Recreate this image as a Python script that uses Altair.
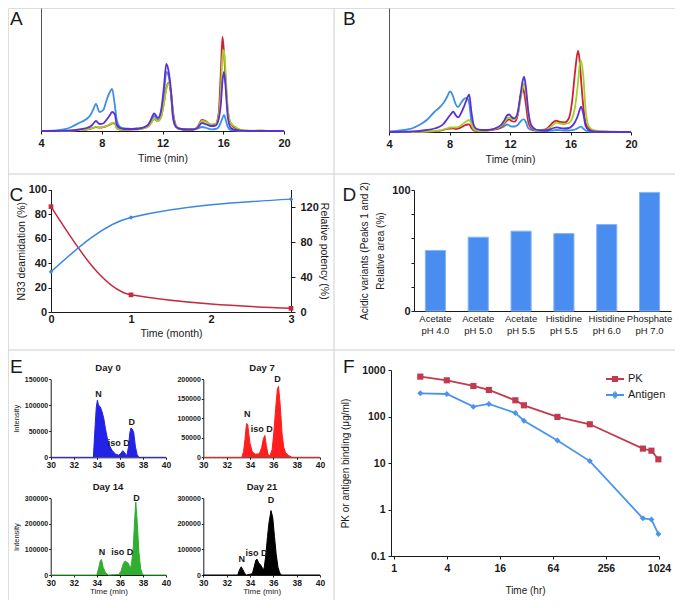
import altair as alt
import pandas as pd

W, H = 667, 592
FONT = "Liberation Sans"
INK = "#1a1a1a"

# ---------------- Panel A : chromatogram (min, arbitrary signal) ----------------
a_time = [4, 5, 5.5, 6, 6.5, 7, 7.3, 7.45, 7.62, 7.85, 8.1, 8.3, 8.5, 8.68, 8.85, 9.0,
          9.2, 9.5, 10, 10.5, 11, 11.2, 11.45, 11.7, 11.9, 12.1, 12.25, 12.4, 12.55, 12.7,
          12.9, 13.2, 13.6, 14, 14.3, 14.6, 14.9, 15.2, 15.5, 15.7, 15.85, 15.95, 16.05,
          16.15, 16.3, 16.5, 16.8, 17.1, 17.5, 18, 18.5, 19, 20]
a_blue = [0, 0.5, 1.5, 4, 8, 12,
          17, 22, 27, 19, 21, 30, 38, 42, 27, 10,
          4, 2.5, 2, 2.5, 5, 9, 15, 11, 17, 38,
          59, 55, 38, 12, 4, 2, 1.5, 1.5, 2.5, 4,
          3, 1.7, 2, 4, 9, 13, 16, 12, 4, 1,
          0.5, 0, 0, 0, 0, 0, 0]
a_red = [0, 0, 0, 0.3, 0.8, 1.5,
         2.4, 3.2, 4, 3.3, 3.8, 4.8, 6, 7.6, 7.8, 2.8,
         1.5, 1.2, 1.5, 2, 4, 7, 12, 10, 14, 29,
         43, 48, 39, 18, 5, 2, 1.5, 1.5, 4, 11,
         9.5, 6, 7, 18, 62, 94, 78, 52, 20, 7,
         3, 1, 0.3, 0, 0, 0, 0]
a_green = [0, 0, 0, 0.3, 0.8, 1.5,
           2.5, 3.3, 4.3, 3.5, 4, 5, 6.5, 8, 8.3, 3,
           1.5, 1.2, 1.5, 2, 4, 7, 12.5, 10, 14, 28,
           42, 47.5, 40, 18, 5, 2, 1.5, 1.5, 3.5, 10,
           9, 6.5, 7, 15, 42, 75, 81, 60, 22, 8,
           4, 1.5, 0.5, 0.3, 0.8, 0, 0]
a_purple = [0, 0, 0.2, 0.5, 1.5, 3,
            5, 7.5, 10, 7, 7.5, 11, 15, 19, 17, 6,
            3, 2, 2, 2.5, 5.5, 10, 17.5, 13, 20, 45,
            67, 60, 42, 14, 4, 2, 1.5, 1.5, 3, 8,
            6.5, 5, 5.5, 12, 28, 50, 59, 45, 14, 3,
            1, 0.5, 0, 0, 0, 0, 0]

# ---------------- Panel B : chromatogram ----------------
b_time = [4, 4.5, 5, 5.5, 6, 6.5, 7, 7.3, 7.6, 7.8,
          8.05, 8.25, 8.4, 8.56, 8.8, 9.0, 9.15, 9.3, 9.45, 9.6,
          9.8, 10.1, 10.5, 11, 11.4, 11.6, 11.8, 11.95, 12.1, 12.3,
          12.5, 12.7, 12.85, 12.93, 13.05, 13.2, 13.4, 13.7, 14.1, 14.5,
          14.8, 15.05, 15.3, 15.6, 15.9, 16.1, 16.3, 16.5, 16.6, 16.7,
          16.85, 17.0, 17.2, 17.5, 18, 18.5, 19, 19.5, 20]
b_blue = [0.5, 1, 2, 3.5, 7, 12, 20, 24, 29, 34,
          40.5, 35, 28, 25, 30, 33.5, 34, 29, 10, 4,
          2.5, 2, 2, 3, 4, 5.5, 7.5, 6.5, 5.5, 5.5,
          7, 10.5, 12.5, 12.7, 10, 4, 2, 1.2, 1, 1,
          1.5, 2, 1.8, 1.5, 1.5, 1.8, 2.5, 4, 5, 5.3,
          3.5, 1.5, 0.7, 0.3, 0, 0, 0, 0, 0]
b_red = [0, 0, 0, 0, 0.1, 0.3, 0.8, 1.2, 2, 3,
         3.5, 3.7, 3, 3.3, 5, 6.5, 7.5, 7.7, 4, 1.5,
         1, 1, 1.5, 2.5, 5, 8, 11.5, 12.7, 11, 10.3,
         16, 36, 43.7, 40, 28, 11, 4, 2, 2, 4,
         9, 11.3, 10, 9.5, 14, 30, 60, 81.3, 72, 52,
         25, 9, 3.5, 1.5, 0.5, 0, 0, 0, 0]
b_green = [0, 0, 0, 0, 0.2, 0.5, 1, 1.5, 2.5, 3.5,
           4.5, 4.7, 4.5, 5, 7, 9.5, 11, 12, 8, 3,
           1.5, 1, 1.5, 3, 6, 9, 13.5, 14.7, 13, 13,
           17, 33, 45, 48.7, 40, 20, 6, 2, 1.5, 3,
           6.5, 9.3, 8.5, 8, 9, 13, 25, 50, 66, 71.3,
           55, 22, 6, 2, 1, 0.5, 0.3, 0, 0]
b_purple = [0, 0, 0.2, 0.5, 1, 2, 3.5, 5, 8, 12,
            17, 20.3, 17, 14.7, 20, 27, 33, 37.7, 20, 7,
            3, 2, 2, 3.5, 7, 11, 16.5, 17.5, 15, 13.7,
            19, 38, 52, 55.3, 45, 22, 7, 2.5, 1.5, 2,
            3.5, 4.7, 4, 3.5, 4, 6, 10, 17, 22, 25.3,
            18, 6, 2, 0.5, 0, 0, 0, 0, 0]

# ---------------- Panel C ----------------
c_month = [0, 1, 3]
c_deamidation = [86, 14, 3]
c_potency = [46, 108, 129]

# ---------------- Panel D ----------------
d_buffer = ["Acetate", "Acetate", "Acetate", "Histidine", "Histidine", "Phosphate"]
d_ph = ["pH 4.0", "pH 5.0", "pH 5.5", "pH 5.5", "pH 6.0", "pH 7.0"]
d_acidic = [50, 61, 66, 64, 71.5, 98]

# ---------------- Panel E : mass spec traces ----------------
e0_time = [30, 33.7, 33.84, 33.95, 34.05, 34.15, 34.3, 34.45, 34.6, 34.75, 34.9, 35.05, 35.3, 35.6,
           35.9, 36.1, 36.25, 36.4, 36.6, 36.75, 36.85, 36.95, 37.05, 37.2, 37.35, 37.5, 37.65, 40]
e0_int = [0, 0, 55000, 95000, 110000, 100000, 97000, 88000, 75000, 55000, 38000, 25000, 14000, 6500,
          4000, 8000, 12700, 9000, 3000, 20000, 45000, 56000, 55000, 48000, 20000, 5000, 0, 0]
e7_time = [30, 33.3, 33.45, 33.57, 33.7, 33.8, 33.9, 34.0, 34.2, 34.45, 34.8, 35.0, 35.15, 35.28, 35.4,
           35.55, 35.7, 35.9, 36.05, 36.2, 36.35, 36.45, 36.6, 36.75, 36.9, 37.05, 37.3, 37.6, 40]
e7_int = [0, 0, 15000, 45000, 86000, 85000, 60000, 36000, 14000, 8000, 9000, 25000, 48000, 56000, 30000,
          8000, 3000, 20000, 65000, 125000, 175000, 182000, 130000, 60000, 25000, 12000, 5000, 0, 0]
e14_time = [30, 34.0, 34.15, 34.3, 34.4, 34.55, 34.75, 35.0, 35.9, 36.1, 36.3, 36.45, 36.6, 36.75, 36.9,
            37.0, 37.15, 37.3, 37.38, 37.5, 37.65, 37.8, 37.95, 38.1, 40]
e14_int = [0, 0, 25000, 55000, 61000, 30000, 9000, 0, 2000, 15000, 45000, 55000, 50000, 45000, 25000,
           40000, 100000, 230000, 285000, 210000, 90000, 25000, 3000, 0, 0]
e21_time = [30, 32.95, 33.1, 33.25, 33.4, 33.55, 33.7, 34.2, 34.35, 34.5, 34.6, 34.75, 34.9, 35.05, 35.2,
            35.35, 35.5, 35.63, 35.8, 35.95, 36.1, 36.25, 36.4, 36.55, 36.7, 40]
e21_int = [0, 0, 20000, 32000, 20000, 6000, 0, 5000, 30000, 58000, 62000, 47000, 40000, 28000, 22000,
           75000, 150000, 205000, 252000, 225000, 150000, 80000, 30000, 8000, 0, 0]
e_peak_labels = ["N", "iso D", "D"]
e0_lab_time, e0_lab_int = [34.15, 35.9, 37.02], [121000, 27000, 68000]
e7_lab_time, e7_lab_int = [33.77, 35.0, 36.36], [110000, 73000, 200000]
e14_lab_time, e14_lab_int = [34.45, 36.2, 37.45], [91000, 91000, 300000]
e21_lab_time, e21_lab_int = [33.29, 34.55, 35.8], [61000, 88000, 292000]

# ---------------- Panel F : PK ----------------
f_time = [2, 4, 8, 12, 24, 30, 72, 168, 672, 840, 1008]
f_pk = [720, 600, 453, 372, 223, 174, 98, 68, 20.4, 18.4, 12]
f_antigen = [315, 305, 163, 186, 119, 81, 30.6, 11, 0.645, 0.61, 0.297]

# ---------------- styling / layout ----------------
TRACE_ORDER = ["blue", "red", "green", "purple"]
TRACE_COLORS = {"blue": "#3d8fe8", "red": "#d0212f", "green": "#a4d02c", "purple": "#5b30d6"}
C_RED, C_BLUE = "#c22c3f", "#3b86e3"
D_BAR, D_EDGE = "#4a8df0", "#86b5f6"
PK_COL, AG_COL = "#c23a4f", "#4a94ea"

A_X, A_Y = [33, 276], [123, 0]
B_X, B_Y = [381, 623], [124, 0]
C_X, C_Y = [43, 283], [304, 181.5]
D_X, D_Y = [406, 663], [303, 182]
E_XL, E_XR = [42.7, 158], [195.3, 312]
E_YT, E_YB = [449.3, 371.3], [567, 490.3]
F_X, F_Y = [383, 651], [548, 362]


def ax(**kw):
    base = dict(grid=False, domainColor=INK, tickColor=INK, labelColor=INK, titleColor=INK,
                labelFont=FONT, titleFont=FONT, labelOverlap=False, labelFlush=False,
                labelBound=False, titleFontWeight="normal")
    base.update(kw)
    return alt.Axis(**base)


def chromatogram(times, traces, xr, yr, ymax):
    xs = alt.Scale(domain=[4, 20], range=xr, nice=False, zero=False)
    ys = alt.Scale(domain=[0, ymax], range=yr, nice=False)
    units = []
    for i, name in enumerate(TRACE_ORDER):
        df = pd.DataFrame({"time": times, "signal": traces[name]})
        if i == 0:
            xa = ax(orient="bottom", values=[4, 8, 12, 16, 20], offset=yr[0] - H, title="Time (min)",
                    tickSize=3, labelPadding=3, labelFontSize=11, labelFontWeight="bold",
                    titleFontSize=10.5, titlePadding=5)
            ya = ax(orient="left", offset=-xr[0], ticks=False, labels=False, title=None,
                    domainColor="#555")
        else:
            xa, ya = None, None
        units.append(
            alt.Chart(df).mark_line(color=TRACE_COLORS[name], strokeWidth=1.8, interpolate="monotone")
            .encode(x=alt.X("time:Q", scale=xs, axis=xa), y=alt.Y("signal:Q", scale=ys, axis=ya))
        )
    return units


units_a = chromatogram(a_time, {"blue": a_blue, "red": a_red, "green": a_green, "purple": a_purple},
                       A_X, A_Y, 123)
units_b = chromatogram(b_time, {"blue": b_blue, "red": b_red, "green": b_green, "purple": b_purple},
                       B_X, B_Y, 124)

# ---- C
c_df = pd.DataFrame({"month": c_month, "deamidation": c_deamidation, "potency": c_potency})
cx = alt.Scale(domain=[0, 3], range=C_X, nice=False)
c_red = alt.Chart(c_df).mark_line(
    color=C_RED, strokeWidth=1.5, interpolate="monotone",
    point=alt.OverlayMarkDef(shape="square", size=22, filled=True, color=C_RED)
).encode(
    x=alt.X("month:Q", scale=cx,
            axis=ax(orient="bottom", values=[0, 1, 2, 3], offset=C_Y[0] - H, ticks=False,
                    labelPadding=1.5, labelFontSize=11, labelFontWeight="bold", title="Time (month)",
                    titleFontSize=10.5, titlePadding=4)),
    y=alt.Y("deamidation:Q", scale=alt.Scale(domain=[0, 100], range=C_Y, nice=False),
            axis=ax(orient="left", values=[0, 20, 40, 60, 80, 100], offset=-C_X[0], tickSize=3,
                    labelPadding=1.5, labelFontSize=11, labelFontWeight="bold",
                    title="N33 deamidation (%)", titleFontSize=10.5, titlePadding=2)),
)
c_blue = alt.Chart(c_df).mark_line(
    color=C_BLUE, strokeWidth=1.5, interpolate="monotone",
    point=alt.OverlayMarkDef(shape="diamond", size=20, filled=True, color=C_BLUE)
).encode(
    x=alt.X("month:Q", scale=cx, axis=None),
    y=alt.Y("potency:Q", scale=alt.Scale(domain=[0, 140], range=C_Y, nice=False),
            axis=ax(orient="right", values=[0, 40, 80, 120], offset=C_X[1] - W, tickSize=4,
                    labelPadding=5, labelFontSize=11, labelFontWeight="bold",
                    title="Relative potency (%)", titleFontSize=10.5, titlePadding=0)),
)

# ---- D
d_cat = [f"{b}|{p}" for b, p in zip(d_buffer, d_ph)]
d_df = pd.DataFrame({"formulation": d_cat, "acidic": d_acidic})
panel_d = alt.Chart(d_df).mark_bar(color=D_BAR, stroke=D_EDGE, strokeWidth=1).encode(
    x=alt.X("formulation:N", sort=d_cat,
            scale=alt.Scale(domain=d_cat, range=D_X, paddingInner=0.53, paddingOuter=0.265),
            axis=ax(orient="bottom", labelExpr="split(datum.label, '|')", labelAngle=0, ticks=False,
                    tickSize=0, labelPadding=2, labelFontSize=9.5, labelLineHeight=12,
                    labelBaseline="top", offset=D_Y[0] - H, title=None)),
    y=alt.Y("acidic:Q", scale=alt.Scale(domain=[0, 100], range=D_Y, nice=False),
            axis=ax(orient="left", values=[0, 20, 40, 60, 80, 100],
                    labelExpr="datum.value == 0 || datum.value == 100 ? datum.label : ''",
                    offset=-D_X[0], tickSize=3, labelPadding=1, labelFontSize=11,
                    labelFontWeight="bold",
                    title=["Acidic variants (Peaks 1 and 2)", "Relative area (%)"],
                    titleFontSize=10, titleLineHeight=16, titlePadding=6)),
)


# ---- E
def ms_panel(times, inten, color, xr, yr, ymax, yticks, lab_t, lab_i, left, bottom):
    xs = alt.Scale(domain=[30, 40], range=xr, nice=False, zero=False)
    ys = alt.Scale(domain=[0, ymax], range=yr, nice=False)
    df = pd.DataFrame({"time": times, "intensity": inten})
    xa = ax(orient="bottom", values=[30, 32, 34, 36, 38, 40], offset=yr[0] - H, tickSize=2,
            labelPadding=1, labelFontSize=8.5, labelFontWeight="bold",
            title=("Time (min)" if bottom else None), titleFontSize=8, titlePadding=1)
    ya = ax(orient="left", values=yticks, format="d", offset=-xr[0], tickSize=2, labelPadding=1,
            labelFontSize=7, labelFontWeight="bold",
            title=("Intensity" if left else None), titleFontSize=7.5, titlePadding=4)
    area = alt.Chart(df).mark_area(
        color=color, opacity=1, line=alt.OverlayMarkDef(color=color, strokeWidth=1)
    ).encode(x=alt.X("time:Q", scale=xs, axis=xa), y=alt.Y("intensity:Q", scale=ys, axis=ya))
    ldf = pd.DataFrame({"label": e_peak_labels, "time": lab_t, "intensity": lab_i})
    ann = alt.Chart(ldf).mark_text(font=FONT, fontSize=9, fontWeight="bold", color=INK).encode(
        x=alt.X("time:Q", scale=xs, axis=None), y=alt.Y("intensity:Q", scale=ys, axis=None),
        text="label:N")
    return [area, ann]


units_e = (
    ms_panel(e0_time, e0_int, "#2323e8", E_XL, E_YT, 150000, [0, 50000, 100000, 150000],
             e0_lab_time, e0_lab_int, True, False)
    + ms_panel(e7_time, e7_int, "#ff1e1e", E_XR, E_YT, 200000, [0, 50000, 100000, 150000, 200000],
               e7_lab_time, e7_lab_int, False, False)
    + ms_panel(e14_time, e14_int, "#2fae2f", E_XL, E_YB, 300000, [0, 100000, 200000, 300000],
               e14_lab_time, e14_lab_int, True, True)
    + ms_panel(e21_time, e21_int, "#000000", E_XR, E_YB, 300000, [0, 100000, 200000, 300000],
               e21_lab_time, e21_lab_int, False, True)
)

# ---- F
n = len(f_time)
f_df = pd.DataFrame({"time": f_time + f_time, "conc": f_pk + f_antigen,
                     "series": ["PK"] * n + ["Antigen"] * n})
fx = alt.Scale(type="log", base=2, domain=[0.93, 1024], range=F_X, nice=False)
fy = alt.Scale(type="log", domain=[0.1, 1000], range=F_Y, nice=False)
fc = alt.Scale(domain=["PK", "Antigen"], range=[PK_COL, AG_COL])
SYM = ("datum.value === 'PK' ? "
       "'M-1,0H1M-0.34,-0.22H0.34M-0.34,0H0.34M-0.34,0.22H0.34' : "
       "'M-1,0H1M-0.4,0H0.4M-0.22,-0.18H0.22M-0.22,0.18H0.22M-0.06,-0.34H0.06M-0.06,0.34H0.06'")
f_line = alt.Chart(f_df).mark_line(strokeWidth=1.8).encode(
    x=alt.X("time:Q", scale=fx,
            axis=ax(orient="bottom", values=[1, 4, 16, 64, 256, 1024], format="~g",
                    offset=F_Y[0] - H, tickSize=3, labelPadding=4, labelFontSize=10.5,
                    labelFontWeight="bold", title="Time (hr)", titleFontSize=10, titlePadding=12)),
    y=alt.Y("conc:Q", scale=fy,
            axis=ax(orient="left", values=[0.1, 1, 10, 100, 1000], format="~g", offset=-F_X[0],
                    tickSize=3, labelPadding=3, labelFontSize=10.5, labelFontWeight="bold",
                    title="PK or antigen binding (\u03bcg/ml)", titleFontSize=10, titlePadding=11)),
    color=alt.Color("series:N", scale=fc, sort=["PK", "Antigen"],
                    legend=alt.Legend(title=None, orient="none", legendX=597, legendY=361,
                                      symbolType={"expr": SYM}, symbolSize=324,
                                      symbolStrokeWidth=1.8, labelFont=FONT, labelFontSize=11,
                                      labelColor=INK, labelOffset=3, rowPadding=0, padding=0)),
)
pk_df = pd.DataFrame({"time": f_time, "conc": f_pk})
ag_df = pd.DataFrame({"time": f_time, "conc": f_antigen})
f_pk_pts = alt.Chart(pk_df).mark_point(filled=True, size=38, opacity=1, shape="square",
                                       color=PK_COL).encode(
    x=alt.X("time:Q", scale=fx, axis=None), y=alt.Y("conc:Q", scale=fy, axis=None))
f_ag_pts = alt.Chart(ag_df).mark_point(filled=True, size=36, opacity=1, shape="diamond",
                                       color=AG_COL).encode(
    x=alt.X("time:Q", scale=fx, axis=None), y=alt.Y("conc:Q", scale=fy, axis=None))

# ---- decorations: panel letters, sub-titles, separators
dummy = alt.Data(values=[{}])
LETTERS = {"A": (2, 17), "B": (335, 17), "C": (1.5, 192.5), "D": (334.5, 193),
           "E": (2, 365), "F": (335, 364.5)}
letter_layers = [
    alt.Chart(dummy).mark_text(text=k, font=FONT, fontSize=19, color=INK, align="left",
                               baseline="alphabetic").encode(x=alt.value(v[0]), y=alt.value(v[1]))
    for k, v in LETTERS.items()
]
DAYS = {"Day 0": (100, 359.5), "Day 7": (254, 359.5), "Day 14": (100, 478.5), "Day 21": (254, 478.5)}
day_layers = [
    alt.Chart(dummy).mark_text(text=k, font=FONT, fontSize=9.5, fontWeight="bold", color=INK,
                               align="center", baseline="middle").encode(x=alt.value(v[0]), y=alt.value(v[1]))
    for k, v in DAYS.items()
]
SEP = "#cfcfcf"
seps = [
    alt.Chart(dummy).mark_rule(color=SEP, strokeWidth=1).encode(x=alt.value(326), y=alt.value(0), y2=alt.value(H)),
    alt.Chart(dummy).mark_rule(color=SEP, strokeWidth=1).encode(x=alt.value(0), x2=alt.value(W), y=alt.value(166)),
    alt.Chart(dummy).mark_rule(color=SEP, strokeWidth=1).encode(x=alt.value(0), x2=alt.value(W), y=alt.value(342)),
]

chart = alt.layer(
    *seps, *units_a, *units_b, c_red, c_blue, panel_d, *units_e, f_line, f_pk_pts, f_ag_pts,
    *letter_layers, *day_layers
).resolve_scale(
    x="independent", y="independent", color="independent"
).resolve_legend(color="independent").properties(
    width=W, height=H, padding=0, autosize=alt.AutoSizeParams(type="none")
).configure_view(stroke=None).configure(font=FONT, background="white")

chart.save("out.html", embed_options={"renderer": "svg", "actions": False})
